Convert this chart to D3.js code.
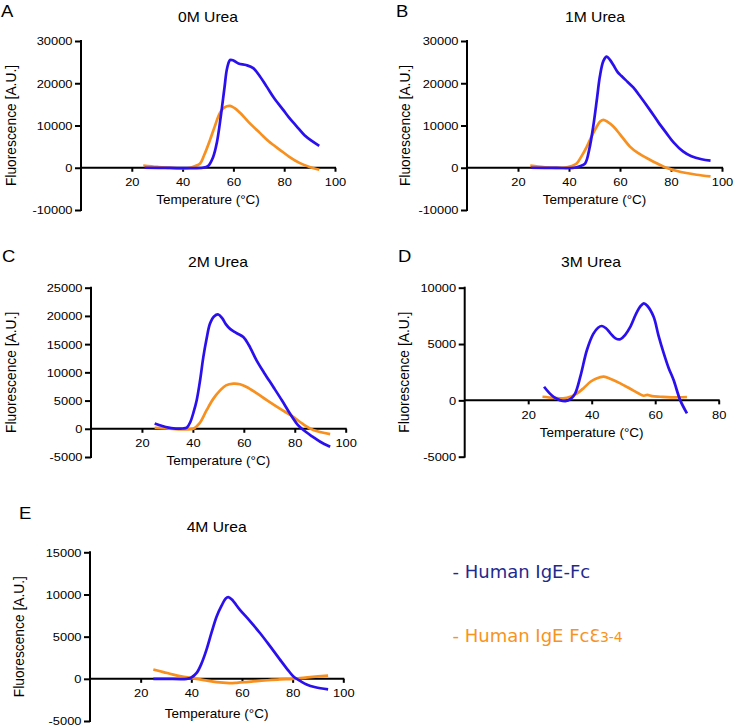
<!DOCTYPE html>
<html>
<head>
<meta charset="utf-8">
<script src="https://cdn.jsdelivr.net/npm/d3@7"></script>
<style>
  html, body { margin: 0; padding: 0; background: #fff; }
  svg { display: block; }
</style>
</head>
<body>
<svg id="chart" width="734" height="728"></svg>
<script>
// ---------------- DATA ----------------
const panelLetters = ["A", "B", "C", "D", "E"];
const panelTitles = ["0M Urea", "1M Urea", "2M Urea", "3M Urea", "4M Urea"];
const seriesNames = ["- Human IgE-Fc", "- Human IgE Fc"];
const xTicks100 = [20, 40, 60, 80, 100];
const xTicks80 = [20, 40, 60, 80];
const yTicksA = [-10000, 0, 10000, 20000, 30000];
const yTicksB = [-10000, 0, 10000, 20000, 30000];
const yTicksC = [-5000, 0, 5000, 10000, 15000, 20000, 25000];
const yTicksD = [-5000, 0, 5000, 10000];
const yTicksE = [-5000, 0, 5000, 10000, 15000];

// [temperature °C, fluorescence A.U.]
const blue0M = [[25,0],[35,-50],[42,-100],[48,0],[50,400],[52,2500],[53.5,6000],[55,12000],[56.5,19000],[57.5,23500],[58.7,25500],[60,25400],[62,24700],[65,24300],[67.8,23600],[70,22000],[73.1,19200],[76,16500],[79.6,13700],[82,11800],[84.9,9800],[88,7700],[91,6300],[93.8,5200]];
const orange0M = [[24.5,540],[30,200],[35,-50],[40,-150],[43,0],[45,400],[46.9,1000],[48.5,3000],[50.8,6600],[52.5,9500],[54.7,13000],[56.5,14300],[58.7,14650],[60.5,14100],[62.6,13000],[66,10800],[70.5,8200],[74,6200],[78.3,4250],[82,2600],[86.2,1100],[90,200],[93.8,-470]];

const blue1M = [[25,0],[35,-50],[42,0],[44,300],[46.3,1000],[48,4500],[49.5,9760],[51,16500],[52.1,21600],[53.5,25300],[54.8,26300],[56,25600],[57.4,24300],[59,22700],[60.6,21700],[63,20300],[65.2,19000],[68,16800],[71.7,13700],[75,10800],[78.2,8200],[81,6000],[84.7,3860],[88,2700],[92,2000],[95.5,1700]];
const orange1M = [[24.8,500],[30,150],[33,0],[38,0],[41,400],[43,1000],[45,2800],[47,5000],[49,7600],[50.9,9760],[52.3,11000],[53.5,11350],[55,10900],[57.4,9760],[60,7900],[63.9,5000],[67,3500],[71.7,1900],[75,900],[78.2,0],[82,-700],[86,-1250],[90,-1650],[95.5,-2050]];

const blue2M = [[25,950],[28,500],[32.3,70],[36,50],[37.6,200],[39,1200],[40.3,3000],[41.5,5070],[42.8,8500],[44.1,12700],[45.4,16000],[46.7,18600],[48.3,19900],[50,20250],[51.5,19600],[53,18500],[54.6,17700],[57,17000],[59.8,16250],[62,14800],[65,12130],[68,9900],[71.6,7400],[75,5000],[78.1,2700],[81,800],[83.4,-230],[87,-1400],[90,-2300],[93.9,-3200]];
const orange2M = [[25,180],[30,50],[36,-100],[40.2,0],[42.5,900],[45.4,3300],[48,5300],[50.7,6800],[53,7700],[55.9,8000],[58.5,7900],[61.1,7400],[65,6300],[69,5070],[74,3600],[79.4,2100],[83,900],[87.3,-230],[93.9,-940]];

const blue3M = [[25,1210],[28,320],[31.7,-60],[33.5,150],[34.8,620],[36.5,2200],[38.5,4470],[40.5,5900],[42,6450],[43.2,6600],[44.5,6400],[45.9,5950],[47.5,5500],[49,5420],[50.5,5800],[52.2,6540],[54,7700],[55.5,8400],[56.4,8610],[57.5,8400],[59.5,7420],[61,5800],[62.7,4170],[64.2,2900],[65.8,1800],[67.9,0],[70,-1150]];
const orange3M = [[24.5,320],[28,230],[31,180],[33.5,350],[35.4,620],[37.5,1100],[39.6,1650],[41.5,1950],[43.8,2100],[46,1900],[49,1510],[52,1050],[54.5,650],[56.4,410],[57.5,480],[59,380],[61.6,320],[65,260],[70,300]];

const blue4M = [[25,0],[30,0],[38.2,0],[40,150],[42.1,700],[44,1800],[46,3460],[48,5500],[50,7400],[52,8700],[53.5,9500],[54.6,9680],[56,9400],[59.2,8180],[63,6900],[67.1,5430],[71,3900],[75,2280],[78,1100],[80.2,310],[83,-250],[85.5,-670],[89,-1000],[94,-1260]];
const orange4M = [[25,1100],[29,800],[32.9,500],[36,300],[39.5,120],[45,-150],[50,-400],[55,-500],[57.9,-470],[61,-400],[64.4,-300],[70,-170],[75,-70],[80.2,0],[85,150],[90,280],[94,390]];

// ---------------- LAYOUT ----------------
const BLUE = "#2b10ee";
const ORANGE = "#f7901e";
const LEGEND_BLUE = "#1f2a8e";
const LEGEND_ORANGE = "#f7941d";

const panels = [
  { letter: panelLetters[0], title: panelTitles[0], blue: blue0M, orange: orange0M,
    xd: [0, 100], xr: [81, 335], xt: xTicks100, yd: [-10000, 30000], yr: [210, 41], yt: yTicksA,
    letterPos: [1, 17], titlePos: [208, 21.5], xTitleY: 204, yTitleX: 16 },
  { letter: panelLetters[1], title: panelTitles[1], blue: blue1M, orange: orange1M,
    xd: [0, 100], xr: [467, 722], xt: xTicks100, yd: [-10000, 30000], yr: [210, 41], yt: yTicksB,
    letterPos: [396, 17], titlePos: [595, 21.5], xTitleY: 204, yTitleX: 410 },
  { letter: panelLetters[2], title: panelTitles[2], blue: blue2M, orange: orange2M,
    xd: [0, 100], xr: [91, 345.7], xt: xTicks100, yd: [-5000, 25000], yr: [457, 287.7], yt: yTicksC,
    letterPos: [2, 262], titlePos: [218, 266.5], xTitleY: 464.5, yTitleX: 16 },
  { letter: panelLetters[3], title: panelTitles[3], blue: blue3M, orange: orange3M,
    xd: [0, 80], xr: [464.7, 718.7], xt: xTicks80, yd: [-5000, 10000], yr: [456.7, 287.7], yt: yTicksD,
    letterPos: [398, 262], titlePos: [591, 266.5], xTitleY: 437, yTitleX: 409 },
  { letter: panelLetters[4], title: panelTitles[4], blue: blue4M, orange: orange4M,
    xd: [0, 100], xr: [90, 343.3], xt: xTicks100, yd: [-5000, 15000], yr: [721, 552.3], yt: yTicksE,
    letterPos: [19, 518.5], titlePos: [216.7, 531.5], xTitleY: 718, yTitleX: 23.5 }
];

const svg = d3.select("#chart");
const SANS = "'Liberation Sans', Arial, Helvetica, sans-serif";
const TICK_SX = 1.17;
const fmt = d => String(d); // plain hyphen minus, as in the reference

panels.forEach(p => {
  const x = d3.scaleLinear().domain(p.xd).range(p.xr);
  const y = d3.scaleLinear().domain(p.yd).range(p.yr);
  const g = svg.append("g");

  // panel letter
  g.append("text")
    .attr("transform", `translate(${p.letterPos[0]},${p.letterPos[1]}) scale(1.12,1)`)
    .attr("font-family", SANS).attr("font-size", 16.5).attr("fill", "#000")
    .text(p.letter);

  // title
  g.append("text")
    .attr("transform", `translate(${p.titlePos[0]},${p.titlePos[1]}) scale(1.12,1)`)
    .attr("text-anchor", "middle")
    .attr("font-family", SANS).attr("font-size", 14).attr("fill", "#000")
    .text(p.title);

  // y axis
  const yAxis = d3.axisLeft(y).tickValues(p.yt).tickSize(5).tickSizeOuter(0).tickPadding(3)
    .tickFormat(fmt);
  const ya = g.append("g").attr("transform", `translate(${x(0)},0)`).call(yAxis);
  ya.select(".domain").attr("stroke", "#000").attr("stroke-width", 2)
    .attr("d", `M0,${y(p.yd[0]) + 1}V${y(p.yd[1]) - 1}`);
  ya.selectAll(".tick line").attr("stroke", "#000").attr("stroke-width", 2).attr("x1", 0).attr("x2", -6);
  ya.selectAll(".tick text")
    .attr("font-family", SANS).attr("font-size", 11).attr("fill", "#000")
    .attr("x", -8.5 / TICK_SX).attr("dy", "0.36em")
    .attr("transform", `scale(${TICK_SX},1)`);

  // x axis at y = 0
  const xAxis = d3.axisBottom(x).tickValues(p.xt).tickSize(4).tickSizeOuter(0).tickPadding(5)
    .tickFormat(fmt);
  const xa = g.append("g").attr("transform", `translate(0,${y(0)})`).call(xAxis);
  xa.select(".domain").attr("stroke", "#000").attr("stroke-width", 2)
    .attr("d", `M${x(p.xd[0])},0H${x(p.xd[1]) + 1}`);
  xa.selectAll(".tick line").attr("stroke", "#000").attr("stroke-width", 2);
  xa.selectAll(".tick text")
    .attr("font-family", SANS).attr("font-size", 11).attr("fill", "#000")
    .attr("y", 10.5).attr("dy", "0.71em")
    .attr("transform", `scale(${TICK_SX},1)`);

  // axis titles
  g.append("text")
    .attr("x", (p.xr[0] + p.xr[1]) / 2).attr("y", p.xTitleY)
    .attr("text-anchor", "middle")
    .attr("font-family", SANS).attr("font-size", 13.5).attr("fill", "#000")
    .text("Temperature (°C)");
  g.append("text")
    .attr("transform", `translate(${p.yTitleX},${(p.yr[0] + p.yr[1]) / 2}) rotate(-90)`)
    .attr("text-anchor", "middle")
    .attr("font-family", SANS).attr("font-size", 13.8).attr("fill", "#000")
    .text("Fluorescence [A.U.]");

  // lines
  const line = d3.line().x(d => x(d[0])).y(d => y(d[1])).curve(d3.curveCatmullRom.alpha(0.5));
  g.append("path").datum(p.orange).attr("d", line)
    .attr("fill", "none").attr("stroke", ORANGE).attr("stroke-width", 2.7)
    .attr("stroke-linejoin", "round").attr("stroke-linecap", "butt");
  g.append("path").datum(p.blue).attr("d", line)
    .attr("fill", "none").attr("stroke", BLUE).attr("stroke-width", 2.7)
    .attr("stroke-linejoin", "round").attr("stroke-linecap", "butt");
});

// legend
const LEG = "'DejaVu Sans', Verdana, sans-serif";
svg.append("text")
  .attr("x", 452.5).attr("y", 578)
  .attr("font-family", LEG).attr("font-size", 18).attr("fill", LEGEND_BLUE)
  .text(seriesNames[0]);
const t2 = svg.append("text")
  .attr("x", 452.5).attr("y", 641.5)
  .attr("font-family", LEG).attr("font-size", 18).attr("fill", LEGEND_ORANGE);
t2.append("tspan").attr("xml:space", "preserve").text(seriesNames[1]);
t2.append("tspan").attr("font-size", 17).text("\u0190");
t2.append("tspan").attr("font-size", 14).text("3-4");
</script>
</body>
</html>
